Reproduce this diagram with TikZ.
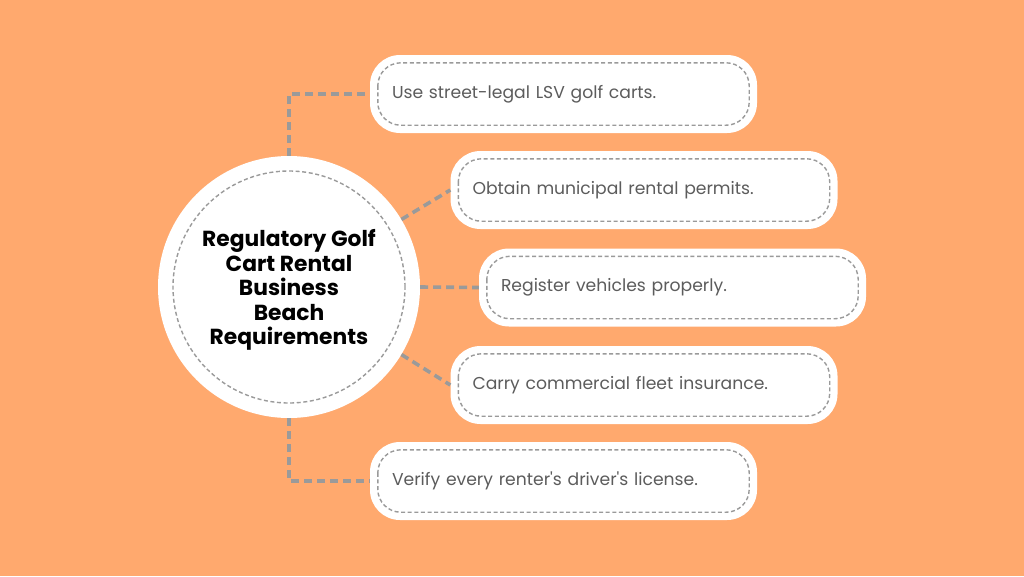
\documentclass[tikz,border=0pt]{standalone}
\usepackage{fontspec}
\setmainfont{Poppins}[Ligatures=TeXOff]
\usetikzlibrary{calc}
\definecolor{bg}{HTML}{FFA96E}
\definecolor{dashgray}{HTML}{9A9A9A}
\definecolor{txtgray}{HTML}{5C5C5C}
\tikzset{
  pill/.style={fill=white, rounded corners=30pt, minimum width=387pt, minimum height=78pt,
    text width=343pt, inner xsep=22pt, align=left, text=txtgray, font=\fontsize{17.2}{20}\selectfont},
  innerdash/.style={draw=dashgray, line width=1.4pt, dash pattern=on 4pt off 2.6pt, rounded corners=23pt},
  conn/.style={draw=dashgray, line width=3.6pt, dash pattern=on 8pt off 5pt},
  hub/.style={circle, fill=white, minimum size=262pt, inner sep=0pt}
}
\begin{document}
\begin{tikzpicture}[x=1pt,y=-1pt]
\useasboundingbox (0,0) rectangle (1024,576);
\fill[bg] (0,0) rectangle (1024,576);

\node[hub] (hub) at (289,287) {};
\node[font=\fontsize{21.8}{24.5}\selectfont\bfseries, align=center, text=black, inner sep=0pt] (hubtext) at ([yshift=-3pt]hub.center) {Regulatory Golf\\Cart Rental\\Business\\Beach\\Requirements};
\draw[draw=dashgray, line width=1.4pt, dash pattern=on 4pt off 2.6pt] (hub.center) circle[radius=116pt];

\node[pill] (b1) at (563.5,94) {Use street-legal LSV golf carts.};
\node[pill] (b2) at (644,190) {Obtain municipal rental permits.};
\node[pill] (b3) at (672.5,287.5) {Register vehicles properly.};
\node[pill] (b4) at (644,385) {Carry commercial fleet insurance.};
\node[pill] (b5) at (563.5,481) {Verify every renter's driver's license.};

\foreach \b in {b1,b2,b3,b4,b5}{
  \draw[innerdash] ([shift={(8pt,-8pt)}]\b.north west) rectangle ([shift={(-8pt,8pt)}]\b.south east);
}

\draw[conn] (hub.north) |- (b1.west);
\draw[conn] (hub.31) -- (b2.west);
\draw[conn] (hub.east) -- (b3.west);
\draw[conn] (hub.-31) -- (b4.west);
\draw[conn] (hub.south) |- (b5.west);
\end{tikzpicture}
\end{document}
